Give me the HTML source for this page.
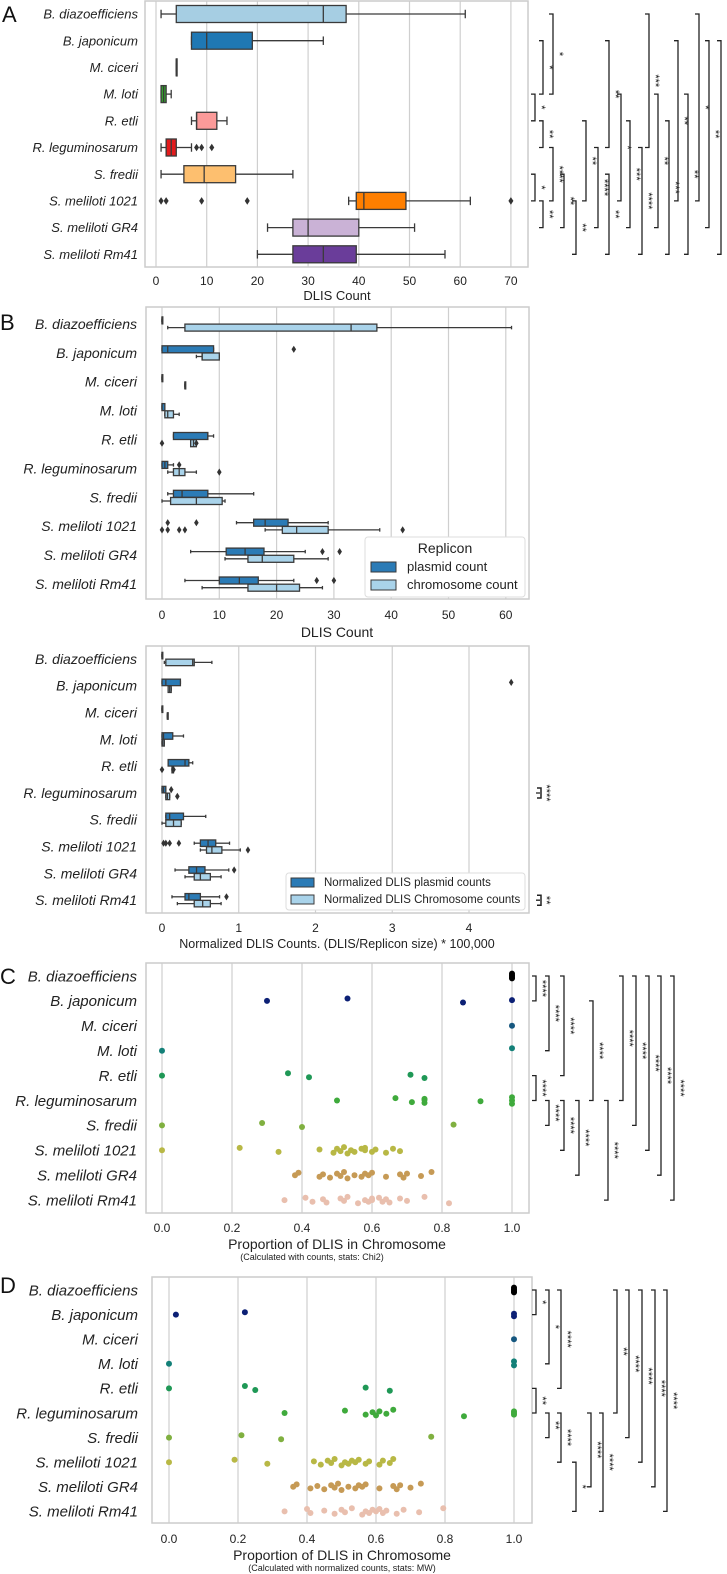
<!DOCTYPE html>
<html><head><meta charset="utf-8"><title>DLIS figure</title>
<style>
html,body{margin:0;padding:0;background:#fff;}
svg{display:block;font-family:"Liberation Sans",sans-serif;}
.sp{font-style:italic;fill:#222;}
.tk{font-size:12px;fill:#222;}
</style></head>
<body>
<svg id="fig" width="727" height="1574" viewBox="0 0 727 1574"></svg>
<script>
const species = ["B. diazoefficiens","B. japonicum","M. ciceri","M. loti","R. etli","R. leguminosarum","S. fredii","S. meliloti 1021","S. meliloti GR4","S. meliloti Rm41"];
// Panel A: [whiskerLow, q1, median, q3, whiskerHigh]
const aStats = [[1,4,33,37.5,61],[7,7,10,19,33],[4,4,4,4,4],[1,1,1.5,2,3],[7,8,8,12,14],[1,2,3,4,7],[1,5.5,9.5,15.7,27],[38,39.5,41,49.3,62],[22,27,30,40,51],[20,27,33,39.5,57]];
const aOut = [[],[],[],[],[],[8,9,11],[],[1,2,9,18,70],[],[]];
const aColors = ["#a6cee3","#1f78b4","#b2df8a","#33a02c","#fb9a99","#e31a1c","#fdbf6f","#ff7f00","#cab2d6","#6a3d9a"];
const aTicks = [0,10,20,30,40,50,60,70];
const aBrFrom = [0,1,3,4,6,5,7,6,7,4,5,1,6,3,4,5,0,3,4,1,3,0,1,1];
const aBrTo   = [3,3,4,5,7,7,8,8,9,7,8,5,9,7,8,9,5,8,9,7,9,7,8,9];
const aBrLab  = ["*","*","*","**","*","****","**","**","**","**","****","**","**","*","***","****","***","**","***","**","**","*","**","**"];
const aBrX    = [553,543,535,543,535,553,543,564,576,586,598,609,609,621,630,642,649,658,669,678,688,699,709,721];
// Panel B top: plasmid & chromosome stats
const bPl = [[0,0,0,0,0],[0,0,1,9,9],[0,0,0,0,0],[0,0,0,0.5,0.5],[2,2,8,8,9],[0,0,0.5,1,2],[1,2,3.5,8,16],[13,16,18,22,29],[5,11.2,14.5,17.8,25],[4,10,13.5,16.8,23]];
const bCh = [[1,4,33,37.5,61],[6,7,7,10,10],[4,4,4,4,4],[0.5,0.5,1,2,3],[5,5,5.5,6,6],[1,2,3,4,6],[0,1.5,6,10.5,11],[18,21,23.5,29,38],[11,15,17.5,23,29],[7,15,20,24,28]];
const bPlOut = [[],[23],[],[],[],[3],[],[1,6],[28,31],[27,30]];
const bChOut = [[],[],[],[],[0,6],[10],[],[0,1,3,4,42],[],[]];
const bTicks = [0,10,20,30,40,50,60];
// Panel B bottom: normalized
const nPl = [[0,0,0,0,0],[0,0,0.05,0.24,0.24],[0,0,0,0,0],[0,0,0.02,0.14,0.28],[0.08,0.08,0.3,0.35,0.4],[0,0,0.02,0.05,0.05],[0.05,0.05,0.1,0.28,0.57],[0.42,0.5,0.6,0.7,0.88],[0.17,0.35,0.45,0.56,0.87],[0.13,0.3,0.35,0.5,0.75]];
const nCh = [[0.03,0.05,0.4,0.42,0.65],[0.08,0.08,0.1,0.12,0.12],[0.07,0.07,0.07,0.07,0.07],[0,0,0.01,0.03,0.03],[0.13,0.13,0.14,0.15,0.15],[0.05,0.05,0.07,0.1,0.1],[0,0.05,0.15,0.25,0.25],[0.5,0.58,0.65,0.78,1.02],[0.3,0.42,0.5,0.63,0.77],[0.2,0.42,0.53,0.63,0.77]];
const nPlOut = [[],[4.55],[],[],[],[0.12],[],[0.02,0.05,0.1,0.22],[0.94],[0.84]];
const nChOut = [[],[],[],[],[0,0.15],[0.2],[],[1.12],[],[]];
const nTicks = [0,1,2,3,4];
// Panel C & D proportions
const cVals = [[1,1,1,1,1],[0.30,0.53,0.86,1.0],[1.0],[0,1.0],[0,0.36,0.42,0.71,0.75],[0.5,0.667,0.714,0.75,0.75,0.75,0.91,1,1,1],[0,0.286,0.4,0.833],[0,0.222,0.333,0.45,0.49,0.5,0.51,0.52,0.53,0.54,0.55,0.57,0.58,0.58,0.6,0.61,0.64,0.66,0.68],[0.38,0.39,0.45,0.46,0.48,0.5,0.51,0.52,0.53,0.55,0.57,0.58,0.59,0.6,0.64,0.68,0.69,0.7,0.74,0.77],[0.35,0.41,0.43,0.46,0.47,0.51,0.52,0.53,0.56,0.58,0.59,0.6,0.6,0.62,0.63,0.64,0.65,0.68,0.7,0.75,0.82]];
const dVals = [[1,1,1,1,1],[0.02,0.22,1,1],[1],[0,1,1],[0,0.22,0.25,0.57,0.64],[0.335,0.51,0.57,0.59,0.6,0.61,0.63,0.65,0.855,1,1,1],[0,0.21,0.325,0.76],[0,0.19,0.285,0.42,0.44,0.46,0.47,0.48,0.5,0.51,0.52,0.53,0.54,0.55,0.57,0.58,0.61,0.62,0.64,0.65],[0.36,0.37,0.41,0.43,0.45,0.47,0.48,0.49,0.5,0.52,0.54,0.55,0.56,0.57,0.61,0.65,0.66,0.67,0.7,0.73],[0.335,0.4,0.41,0.45,0.48,0.5,0.51,0.53,0.56,0.57,0.58,0.59,0.6,0.61,0.62,0.63,0.66,0.68,0.725,0.795]];
const dotColors = ["#000000","#0c2075","#16577f","#138078","#1f9856","#3faa3c","#80b040","#b8b845","#c69a55","#e9bfae"];
const pTicks = [0,0.2,0.4,0.6,0.8,1.0];
const cBrFrom = [0,0,0,1,0,0,0,0,0,4,5,5,5,5];
const cBrTo   = [1,3,4,5,5,6,7,8,9,5,6,7,8,9];
const cBrX    = [536,549,564,593,623,636,649,661,674,536,549,564,579,608];
const cBrLab  = ["****","****","****","****","****","****","****","****","****","****","****","****","****","****"];
const dBrFrom = [0,0,0,4,5,5,7,5,5,0,0,0,0,0];
const dBrTo   = [1,3,4,5,6,7,9,8,9,5,6,7,8,9];
const dBrX    = [536,549,561,536,549,561,576,591,603,617,629,642,655,667];
const dBrLab  = ["*","*","****","**","**","****","*","****","****","**","****","****","****","****"];

const NS = "http://www.w3.org/2000/svg";
const svg = document.getElementById("fig");
function mk(tag, attrs, parent){ const e=document.createElementNS(NS,tag); for(const k in attrs) e.setAttribute(k,attrs[k]); (parent||svg).appendChild(e); return e; }
const jit = [0,-3,2,-1,3,-2,1,-4,4,0,2,-2];

function frame(L,R,T,B,ticks,sx,tickY,name){
  const g = mk("g",{});
  
  
  ticks.forEach(t=>{
    const gl = mk("line",{x1:sx(t),x2:sx(t),y1:T,y2:B,stroke:"#cfcfcf","stroke-width":1.2},g);
    
    
    const tl = mk("text",{x:sx(t),y:tickY,"text-anchor":"middle",class:"tk"},g);
    tl.textContent = (ticks===pTicks)? t.toFixed(1) : String(t);
    
    
  });
  const r = mk("rect",{x:L,y:T,width:R-L,height:B-T,fill:"none",stroke:"#cccccc","stroke-width":1.5},g);
  
  
  return g;
}
function labels(ys,size,rightX,name){
  species.forEach((s,i)=>{
    const t = mk("text",{x:rightX,y:ys(i)+size*0.35,"text-anchor":"end",class:"sp","font-size":size});
    t.textContent = s;
    
    
  });
}
function box(st,sx,yc,h,color,g){
  const w1 = mk("line",{x1:sx(st[0]),x2:sx(st[1]),y1:yc,y2:yc,stroke:"#3a3a3a","stroke-width":1.3},g);
  
  
  const w2 = mk("line",{x1:sx(st[3]),x2:sx(st[4]),y1:yc,y2:yc,stroke:"#3a3a3a","stroke-width":1.3},g);
  
  
  [st[0],st[4]].forEach(v=>{
    const c = mk("line",{x1:sx(v),x2:sx(v),y1:yc-h*0.25,y2:yc+h*0.25,stroke:"#3a3a3a","stroke-width":1.3},g);
    
    
  });
  const r = mk("rect",{x:sx(st[1]),y:yc-h/2,width:Math.max(sx(st[3])-sx(st[1]),0.8),height:h,fill:color,stroke:"#3a3a3a","stroke-width":1.3},g);
  
  
  const m = mk("line",{x1:sx(st[2]),x2:sx(st[2]),y1:yc-h/2,y2:yc+h/2,stroke:"#3a3a3a","stroke-width":1.3},g);
  
  
}
function outliers(vals,sx,yc,hw,hh,g){
  vals.forEach(v=>{
    const x=sx(v);
    const p = mk("polygon",{points:`${x},${yc-hh} ${x+hw},${yc} ${x},${yc+hh} ${x-hw},${yc}`,fill:"#333"},g);
    
    
  });
}
function brackets(from,to,xs,labs,ys,name){
  from.forEach((f,i)=>{
    const y1=ys(f), y2=ys(to[i]), x=xs[i];
    const p = mk("path",{d:`M${x-4},${y1} H${x} V${y2} H${x-4}`,fill:"none",stroke:"#222","stroke-width":1.3});
    
    
    const t = mk("text",{x:0,y:0,"font-size":11,fill:"#222","text-anchor":"middle",transform:`translate(${x+3},${(y1+y2)/2}) rotate(90)`});
    t.textContent = labs[i];
    
    
  });
}
function panelLetter(ch,x,y){
  const t = mk("text",{x:x,y:y,"font-size":22,fill:"#111"});
  t.textContent = ch;
  
  
}
function axisTitle(txt,x,y,size,name){
  const t = mk("text",{x:x,y:y,"text-anchor":"middle","font-size":size,fill:"#222"});
  t.textContent = txt;
  
  
}

// ---------- Panel A ----------
const xA = v=>156+v*5.07, yA = i=>14+i*26.7;
frame(145,528,1,267,aTicks,xA,285,"panel-a-axes");
labels(yA,13,138,"species-label");
panelLetter("A",2,22);
const gA = mk("g",{});


aStats.forEach((st,i)=>{ box(st,xA,yA(i),17,aColors[i],gA); outliers(aOut[i],xA,yA(i),2.5,3.8,gA); });
axisTitle("DLIS Count",337,300,13,"x-axis-title");
brackets(aBrFrom,aBrTo,aBrX,aBrLab,yA,"significance-bracket");

// ---------- Panel B top ----------
const xB = v=>162+v*5.73, yB = i=>324+i*28.9;
frame(146,529,307,599,bTicks,xB,619,"panel-b-axes");
labels(yB,14,137,"species-label");
panelLetter("B",0,330);
const gB = mk("g",{});


species.forEach((s,i)=>{
  box(bPl[i],xB,yB(i)-3.6,7,"#2b7bb6",gB); outliers(bPlOut[i],xB,yB(i)-3.6,2.3,3.6,gB);
  box(bCh[i],xB,yB(i)+3.6,7,"#a9d3ea",gB); outliers(bChOut[i],xB,yB(i)+3.6,2.3,3.6,gB);
});
axisTitle("DLIS Count",337,637,14,"x-axis-title");
(function(){
  const lg = mk("g",{});
  
  
  const r = mk("rect",{x:365,y:537,width:160,height:60,rx:3,fill:"#fff",stroke:"#ddd"},lg);
  
  
  const t = mk("text",{x:445,y:553,"text-anchor":"middle","font-size":14,fill:"#222"},lg);
  t.textContent="Replicon";
  
  
  const p1 = mk("rect",{x:371,y:562,width:25,height:10,fill:"#2b7bb6",stroke:"#3a3a3a"},lg);
  
  
  const t1 = mk("text",{x:407,y:571,"font-size":13,fill:"#222"},lg);
  t1.textContent="plasmid  count";
  
  
  const p2 = mk("rect",{x:371,y:580,width:25,height:10,fill:"#a9d3ea",stroke:"#3a3a3a"},lg);
  
  
  const t2 = mk("text",{x:407,y:589,"font-size":13,fill:"#222"},lg);
  t2.textContent="chromosome  count";
  
  
})();

// ---------- Panel B bottom ----------
const xN = v=>162+v*76.75, yN = i=>659+i*26.8;
frame(146,529,646,913,nTicks,xN,932,"panel-b-normalized-axes");
labels(yN,14,137,"species-label");
const gN = mk("g",{});


species.forEach((s,i)=>{
  box(nPl[i],xN,yN(i)-3.4,6.5,"#2b7bb6",gN); outliers(nPlOut[i],xN,yN(i)-3.4,2.3,3.6,gN);
  box(nCh[i],xN,yN(i)+3.4,6.5,"#a9d3ea",gN); outliers(nChOut[i],xN,yN(i)+3.4,2.3,3.6,gN);
});
axisTitle("Normalized DLIS Counts. (DLIS/Replicon size) * 100,000",337,948,12.5,"x-axis-title");
(function(){
  const lg = mk("g",{});
  
  
  const r = mk("rect",{x:286,y:873,width:239,height:37,rx:3,fill:"#fff",stroke:"#ddd"},lg);
  
  
  const p1 = mk("rect",{x:291,y:878,width:23,height:9,fill:"#2b7bb6",stroke:"#3a3a3a"},lg);
  
  
  const t1 = mk("text",{x:324,y:886,"font-size":11.5,fill:"#222"},lg);
  t1.textContent="Normalized DLIS plasmid counts";
  
  
  const p2 = mk("rect",{x:291,y:895,width:23,height:9,fill:"#a9d3ea",stroke:"#3a3a3a"},lg);
  
  
  const t2 = mk("text",{x:324,y:903,"font-size":11.5,fill:"#222"},lg);
  t2.textContent="Normalized DLIS Chromosome counts";
  
  
})();
brackets([5,9],[5,9],[540,540],["****","**"],yN,"significance-bracket");
[5,9].forEach(i=>{
  const p = mk("path",{d:`M537,${yN(i)-5} H541 V${yN(i)+5} H537`,fill:"none",stroke:"#222","stroke-width":1.5});
  
  
});

// ---------- Panel C ----------
const xC = v=>162+v*350, yC = i=>976+i*24.9;
frame(146,529,963,1213,pTicks,xC,1232,"panel-c-axes");
labels(yC,15,137,"species-label");
panelLetter("C",0,984);
const gC = mk("g",{});


cVals.forEach((arr,i)=>arr.forEach((v,j)=>{
  const c = mk("circle",{cx:xC(v),cy:yC(i)+jit[j%jit.length]*0.8,r:3,fill:dotColors[i]},gC);
  
  
}));
axisTitle("Proportion of DLIS in Chromosome",337,1249,14,"x-axis-title");
axisTitle("(Calculated with counts, stats: Chi2)",312,1260,9,"x-axis-subtitle");
brackets(cBrFrom,cBrTo,cBrX,cBrLab,yC,"significance-bracket");

// ---------- Panel D ----------
const xD = v=>169+v*345, yD = i=>1290+i*24.6;
frame(152,532,1277,1523,pTicks,xD,1543,"panel-d-axes");
labels(yD,15,138,"species-label");
panelLetter("D",0,1293);
const gD = mk("g",{});


dVals.forEach((arr,i)=>arr.forEach((v,j)=>{
  const c = mk("circle",{cx:xD(v),cy:yD(i)+jit[j%jit.length]*0.8,r:3,fill:dotColors[i]},gD);
  
  
}));
axisTitle("Proportion of DLIS in Chromosome",342,1560,14,"x-axis-title");
axisTitle("(Calculated with normalized counts, stats: MW)",342,1571,9,"x-axis-subtitle");
brackets(dBrFrom,dBrTo,dBrX,dBrLab,yD,"significance-bracket");
</script>
</body></html>
